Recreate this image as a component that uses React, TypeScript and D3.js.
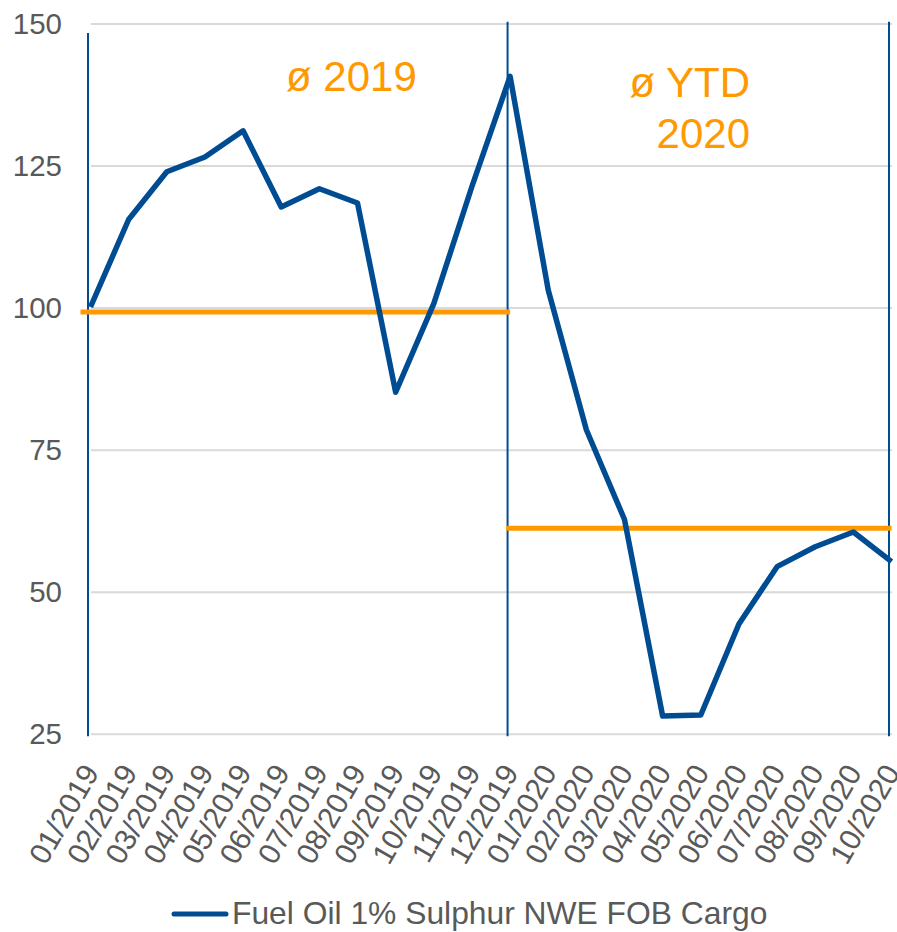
import React from "react";
import * as d3 from "d3";

const categories = [
  "01/2019", "02/2019", "03/2019", "04/2019", "05/2019", "06/2019",
  "07/2019", "08/2019", "09/2019", "10/2019", "11/2019", "12/2019",
  "01/2020", "02/2020", "03/2020", "04/2020", "05/2020", "06/2020",
  "07/2020", "08/2020", "09/2020", "10/2020",
];
const values = [
  100.2, 115.6, 124.0, 126.6, 131.2, 117.8, 121.0, 118.5, 85.2, 100.8, 121.4, 140.8,
  103.2, 78.6, 62.8, 28.2, 28.4, 44.4, 54.5, 58.0, 60.6, 55.4,
];
const yTicks = [25, 50, 75, 100, 125, 150];
const seriesName = "Fuel Oil 1% Sulphur NWE FOB Cargo";

// average lines
const avgValues = [99.3, 61.25];
const avgFrom = ["01/2019", "12/2019"];
const avgTo = ["12/2019", "10/2020"];
const avgLabels = [["ø 2019"], ["ø YTD", "2020"]];

// vertical separators
const markerCats = ["01/2019", "12/2019", "10/2020"];
const markerTops = [148.4, 150.4, 150.4];

const W = 897;
const H = 932;
const BLUE = "#004C93";
const ORANGE = "#FF9900";
const GREY_TXT = "#595959";
const GRID = "#D9D9D9";
const FONT = "'Liberation Sans', Arial, sans-serif";

export default function App() {
  const x = d3.scalePoint<string>().domain(categories).range([90.5, 891.5]);
  const y = d3.scaleLinear().domain([25, 150]).range([734.3, 24]);
  const line = d3
    .line<number>()
    .x((_, i) => x(categories[i]) as number)
    .y((d) => y(d));

  const gridX0 = 91;
  const gridX1 = 892;

  return (
    <svg
      width={W}
      height={H}
      style={{ position: "absolute", left: 0, top: 0, background: "#fff" }}
      fontFamily={FONT}
    >
      {yTicks.map((t) => (
        <line key={"g" + t} x1={gridX0} x2={gridX1} y1={y(t)} y2={y(t)} stroke={GRID} strokeWidth={2} />
      ))}
      {yTicks.map((t) => (
        <text key={"yl" + t} x={62} y={y(t)} dy="0.33em" textAnchor="end" fontSize={29.5} fill={GREY_TXT}>
          {t}
        </text>
      ))}
      {markerCats.map((c, i) => (
        <line
          key={"m" + c}
          x1={(x(c) as number) - 2.5}
          x2={(x(c) as number) - 2.5}
          y1={y(markerTops[i])}
          y2={y(25) + 2}
          stroke={BLUE}
          strokeWidth={2}
        />
      ))}
      {avgValues.map((v, i) => (
        <line
          key={"a" + i}
          x1={(x(avgFrom[i]) as number) - (i === 0 ? 10 : 4)}
          x2={x(avgTo[i]) as number}
          y1={y(v)}
          y2={y(v)}
          stroke={ORANGE}
          strokeWidth={5}
        />
      ))}
      <path d={line(values) || ""} fill="none" stroke={BLUE} strokeWidth={5.5} strokeLinejoin="round" strokeLinecap="butt" />
      <text x={286} y={90.7} fontSize={42} fill={ORANGE}>
        {avgLabels[0][0]}
      </text>
      <text x={750} y={97.3} fontSize={42} fill={ORANGE} textAnchor="end">
        {avgLabels[1][0]}
      </text>
      <text x={750} y={147.7} fontSize={42} fill={ORANGE} textAnchor="end">
        {avgLabels[1][1]}
      </text>
      {categories.map((c) => (
        <text
          key={"xl" + c}
          transform={`translate(${x(c)},767) rotate(-60)`}
          dy="0.36em"
          textAnchor="end"
          fontSize={30}
          fill={GREY_TXT}
        >
          {c}
        </text>
      ))}
      <line x1={174} x2={226} y1={914} y2={914} stroke={BLUE} strokeWidth={5} strokeLinecap="round" />
      <text x={232} y={924} fontSize={31.8} fill={GREY_TXT}>
        {seriesName}
      </text>
    </svg>
  );
}
